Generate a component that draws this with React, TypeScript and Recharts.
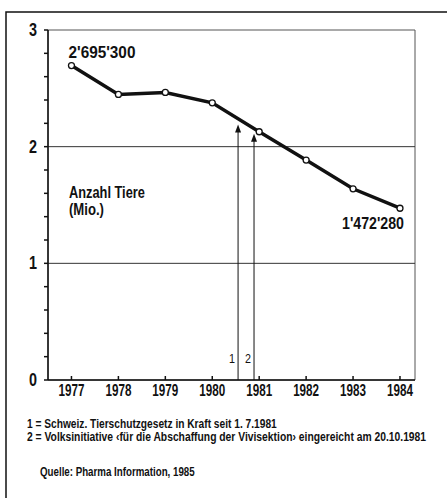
import {
  LabelList,
  Line,
  LineChart,
  ReferenceArea,
  ReferenceDot,
  ReferenceLine,
  XAxis,
  YAxis,
} from "recharts";

const W = 447;
const H = 498;
const FAMILY = "'Liberation Sans', Arial, sans-serif";

const years = [1977, 1978, 1979, 1980, 1981, 1982, 1983, 1984];
const animals = [2.6953, 2.448, 2.465, 2.376, 2.128, 1.885, 1.639, 1.4723]; // Mio.
const endLabels = ["2'695'300", "", "", "", "", "", "", "1'472'280"];

const yTicks = [0, 0.2, 0.4, 0.6, 0.8, 1, 1.2, 1.4, 1.6, 1.8, 2, 2.2, 2.4, 2.6, 2.8, 3];
const gridValues = [1, 2];

// 1 = Tierschutzgesetz 1.7.1981, 2 = Volksinitiative 20.10.1981
const eventIds = ["1", "2"];
const eventX = [1980.55, 1980.89];
const eventTip = [2.19, 2.11];

const footnotes = [
  "1 = Schweiz. Tierschutzgesetz in Kraft seit 1. 7.1981",
  "2 = Volksinitiative \u2039für die Abschaffung der Vivisektion\u203a eingereicht am 20.10.1981",
];
const source = "Quelle: Pharma Information, 1985";

const data = years.map((y, i) => ({ year: y, v: animals[i], lbl: endLabels[i] }));

const C = { ink: "#111", grid: "#333", frame: "#555" };

let ctx: CanvasRenderingContext2D | null = null;
function measure(t: string, size: number, weight: string) {
  if (!ctx) ctx = document.createElement("canvas").getContext("2d");
  if (!ctx) return t.length * size * 0.55;
  ctx.font = `${weight} ${size}px ${FAMILY}`;
  return ctx.measureText(t).width;
}

// condensed look: squeeze a normal grotesque to the width seen in the scan
function NText({ x, y, len, size, weight = "bold", anchor = "start", children }: any) {
  const t = String(children);
  const sx = len / measure(t, size, weight);
  return (
    <text
      transform={`translate(${x},${y}) scale(${sx.toFixed(3)},1)`}
      x={0}
      y={0}
      fontFamily={FAMILY}
      fontSize={size}
      fontWeight={weight}
      textAnchor={anchor}
      fill={C.ink}
    >
      {t}
    </text>
  );
}

function YTick(props: any) {
  const { x, y, payload } = props;
  if (!Number.isInteger(payload.value)) return <g />;
  return (
    <NText x={x} y={y + 6} anchor="end" size={18} len={8}>
      {payload.value}
    </NText>
  );
}

function XTick(props: any) {
  const { x, y, payload } = props;
  return (
    <NText x={x} y={y + 20} anchor="middle" size={16} len={26}>
      {payload.value}
    </NText>
  );
}

function EndLabel(props: any) {
  const { x, y, index } = props;
  const t = endLabels[index];
  if (!t) return null;
  const first = index === 0;
  return (
    <NText
      x={first ? x - 3 : x + 4}
      y={first ? y - 8 : y + 21}
      anchor={first ? "start" : "end"}
      size={16}
      len={first ? 67 : 62}
    >
      {t}
    </NText>
  );
}

export default function App() {
  return (
    <div style={{ position: "absolute", left: 0, top: 0, width: W, height: H, background: "#fff" }}>
      <LineChart width={W} height={H} data={data} margin={{ top: 30, right: 32, bottom: 88, left: 0 }}>
        <XAxis
          dataKey="year"
          type="number"
          domain={[1976.5, 1984.32]}
          ticks={years}
          allowDataOverflow
          stroke={C.ink}
          strokeWidth={1.5}
          tickSize={-4}
          tickMargin={0}
          tick={XTick}
          height={30}
        />
        <YAxis
          type="number"
          domain={[0, 3]}
          ticks={yTicks}
          interval={0}
          stroke={C.ink}
          strokeWidth={1.5}
          tickSize={4}
          tickMargin={7}
          tick={YTick}
          width={48}
        />
        <ReferenceArea x1={1976.5} x2={1984.32} y1={0} y2={3} fill="none" stroke={C.frame} strokeWidth={1} />
        {gridValues.map((g) => (
          <ReferenceLine key={g} y={g} stroke={C.grid} strokeWidth={1} />
        ))}
        {eventIds.map((id, i) => (
          <ReferenceLine
            key={"l" + id}
            segment={[
              { x: eventX[i], y: 0 },
              { x: eventX[i], y: eventTip[i] - 0.05 },
            ]}
            stroke={C.ink}
            strokeWidth={1}
          />
        ))}
        {eventIds.map((id, i) => (
          <ReferenceDot
            key={"a" + id}
            x={eventX[i]}
            y={eventTip[i]}
            shape={(p: any) => (
              <path d={`M${p.cx},${p.cy} L${p.cx - 3},${p.cy + 8} L${p.cx + 3},${p.cy + 8} Z`} fill={C.ink} />
            )}
          />
        ))}
        {eventIds.map((id, i) => (
          <ReferenceDot
            key={"t" + id}
            x={eventX[i]}
            y={0}
            shape={(p: any) => (
              <NText x={p.cx - 6} y={p.cy - 17} anchor="middle" size={13} weight="normal" len={6}>
                {id}
              </NText>
            )}
          />
        ))}
        <Line
          dataKey="v"
          stroke={C.ink}
          strokeWidth={3.5}
          dot={{ r: 3, fill: "#fff", stroke: C.ink, strokeWidth: 1.3 }}
          isAnimationActive={false}
        >
          <LabelList dataKey="lbl" content={EndLabel} />
        </Line>
      </LineChart>
      <svg width={W} height={H} style={{ position: "absolute", left: 0, top: 0, pointerEvents: "none" }}>
        <path d={`M6,${H} L6,12 L${W},12`} fill="none" stroke={C.ink} strokeWidth={1.5} />
        <NText x={69} y={198} size={16} len={76}>
          Anzahl Tiere
        </NText>
        <NText x={69} y={215} size={16} len={35}>
          (Mio.)
        </NText>
        <NText x={27} y={428} size={12.5} len={250}>
          {footnotes[0]}
        </NText>
        <NText x={27} y={441} size={12.5} len={400}>
          {footnotes[1]}
        </NText>
        <NText x={40} y={476} size={12.5} len={155}>
          {source}
        </NText>
      </svg>
    </div>
  );
}
